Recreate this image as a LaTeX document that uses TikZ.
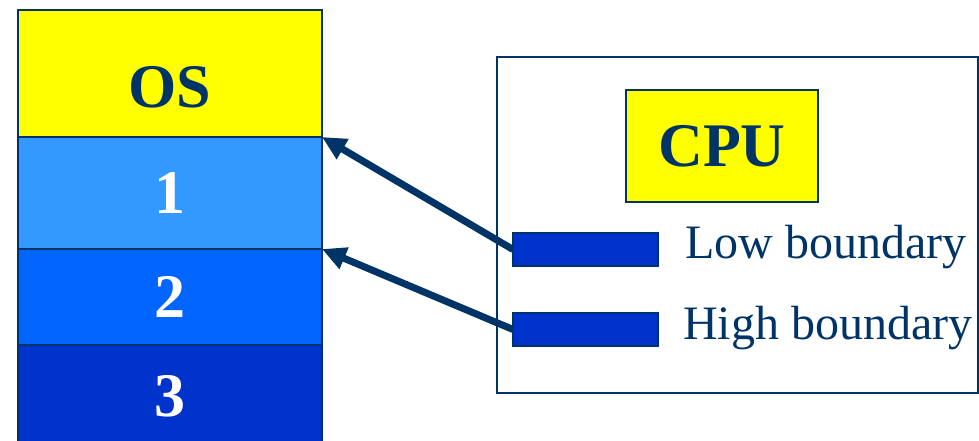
\documentclass[tikz,border=0pt]{standalone}
\usepackage{fontspec}
\setmainfont{Liberation Serif}
\usetikzlibrary{arrows.meta, positioning}
\definecolor{memnavy}{HTML}{003366}
\definecolor{memyellow}{HTML}{FFFF00}
\definecolor{memsky}{HTML}{3399FF}
\definecolor{memblue}{HTML}{0066FF}
\definecolor{memdeep}{HTML}{0033CC}

\begin{document}
\begin{tikzpicture}[x=1pt, y=-1pt,
    part/.style={rectangle, draw=memnavy, line width=1.5pt, minimum width=304pt,
                 outer sep=0pt, inner sep=0pt, font=\fontsize{62}{70}\selectfont\bfseries},
    reg/.style={rectangle, draw=memnavy, line width=1.5pt, fill=memdeep,
                minimum width=145pt, minimum height=33pt, outer sep=0pt},
    lbl/.style={text=memnavy, font=\fontsize{48}{56}\selectfont, inner sep=0pt},
    arr/.style={-{Triangle[length=24pt, width=22pt]}, line width=7pt, draw=memnavy}
  ]
    \useasboundingbox (0,0) rectangle (979,440);
    \clip (0,0) rectangle (979,440);
    % memory partitions
    \node[part, fill=memyellow, text=memnavy, minimum height=127pt,
          text height=67pt, text depth=0pt] (os) at (170,73.5) {OS};
    \node[part, fill=memsky, text=white, minimum height=112pt, below=0pt of os] (p1) {1};
    \node[part, fill=memblue, text=white, minimum height=96pt, below=0pt of p1] (p2) {2};
    \node[part, fill=memdeep, text=white, minimum height=102pt, below=0pt of p2] (p3) {3};
    % cpu side
    \node[rectangle, draw=memnavy, line width=1.5pt, minimum width=481pt,
          minimum height=336pt] (cpubox) at (737.5,225) {};
    \node[rectangle, draw=memnavy, line width=1.5pt, fill=memyellow, text=memnavy,
          minimum width=192pt, minimum height=112pt,
          font=\fontsize{62}{70}\selectfont\bfseries] (cpu) at (722,146) {CPU};
    \node[reg] (low) at (585.5,249.5) {};
    \node[reg] (high) at (585.5,329.5) {};
    \node[lbl, right=27pt of low, yshift=2pt] (lowlbl) {Low boundary};
    \node[lbl, right=25pt of high, yshift=1pt] (highlbl) {High boundary};
    \draw[arr] (low.west) -- (os.south east);
    \draw[arr] (high.west) -- (p1.south east);
  \end{tikzpicture}
\end{document}
